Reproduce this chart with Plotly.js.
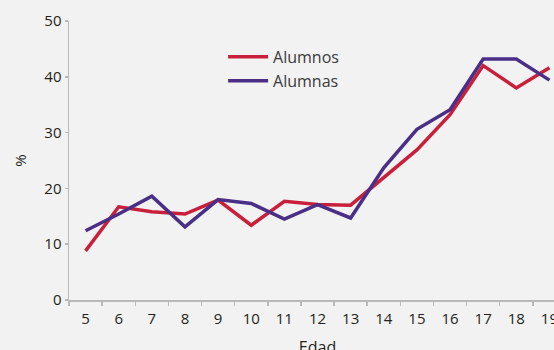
<!DOCTYPE html>
<html><head><meta charset="utf-8">
<script src="https://cdn.plot.ly/plotly-3.0.1.min.js"></script>
<style>html,body{margin:0;padding:0;overflow:hidden;background:#f2f2f2;width:554px;height:350px}</style>
</head><body><div id="chart"></div>
<script>
const edades = ["5","6","7","8","9","10","11","12","13","14","15","16","17","18","19"];
const alumnos = [8.8,16.7,15.8,15.4,17.9,13.4,17.7,17.1,17.0,21.9,26.9,33.2,42.0,38.0,41.6];
const alumnas = [12.4,15.4,18.6,13.1,18.0,17.3,14.5,17.1,14.7,23.7,30.6,34.1,43.2,43.2,39.4];
const yTicks = [0,10,20,30,40,50];

const font = {family: "Open Sans, sans-serif", size: 15, color: "#231f20"};
const traces = [
  {x: edades, y: alumnos, name: "Alumnos", type: "scatter", mode: "lines",
   line: {color: "#c8203b", width: 3.5}},
  {x: edades, y: alumnas, name: "Alumnas", type: "scatter", mode: "lines",
   line: {color: "#4a2f87", width: 3.5}}
];
const layout = {
  width: 570, height: 358,
  margin: {l: 69, r: 4, t: 21, b: 58},
  paper_bgcolor: "#f2f2f2", plot_bgcolor: "#f2f2f2",
  font: font,
  showlegend: true,
  legend: {x: 0.31, y: 0.932, xanchor: "left", yanchor: "top", bgcolor: "rgba(0,0,0,0)",
           itemwidth: 40,
           font: {family: "Open Sans, sans-serif", size: 16, color: "#3a3a3a"}, tracegroupgap: 0},
  xaxis: {type: "category", range: [-0.5, 14.5], tickson: "boundaries",
          showline: true, linecolor: "#b8bab9", linewidth: 1.5,
          ticks: "outside", ticklen: 4, tickcolor: "#b8bab9", tickwidth: 1.5,
          ticklabelstandoff: 4,
          showgrid: false, zeroline: false, fixedrange: true,
          title: {text: "Edad", font: {family: "Open Sans, sans-serif", size: 16, color: "#231f20"}, standoff: 16}},
  yaxis: {range: [0, 50], tickvals: yTicks, showline: true, linecolor: "#b8bab9", linewidth: 1.5,
          ticks: "outside", ticklen: 3, tickcolor: "#b8bab9", tickwidth: 1.5,
          showgrid: false, zeroline: false, fixedrange: true,
          title: {text: "%", font: font, standoff: 14}}
};
Plotly.newPlot("chart", traces, layout, {displayModeBar: false, staticPlot: true});
</script></body></html>
